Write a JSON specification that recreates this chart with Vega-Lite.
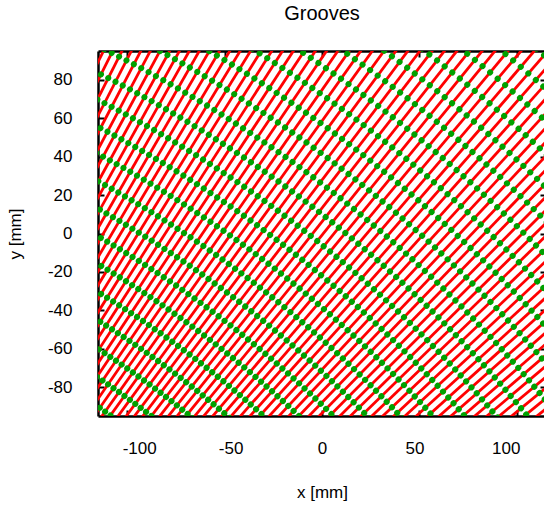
{
  "$schema": "https://vega.github.io/schema/vega-lite/v6.json",
  "width": 448,
  "height": 365,
  "autosize": "none",
  "padding": {"left": 98, "top": 51, "right": 0, "bottom": 95},
  "title": {"text": "Grooves", "fontSize": 20, "fontWeight": "normal", "font": "Liberation Sans", "color": "#000", "anchor": "middle", "frame": "group", "offset": 26},
  "data": {"values": [
    {"g":-38,"x":-410,"y":-520},{"g":-38,"x":403.65,"y":111.71},
    {"g":-37,"x":-410,"y":-520},{"g":-37,"x":398.55,"y":115.74},
    {"g":-36,"x":-410,"y":-520},{"g":-36,"x":393.44,"y":119.77},
    {"g":-35,"x":-410,"y":-520},{"g":-35,"x":388.34,"y":123.80},
    {"g":-34,"x":-410,"y":-520},{"g":-34,"x":383.24,"y":127.82},
    {"g":-33,"x":-410,"y":-520},{"g":-33,"x":378.14,"y":131.85},
    {"g":-32,"x":-410,"y":-520},{"g":-32,"x":373.04,"y":135.88},
    {"g":-31,"x":-410,"y":-520},{"g":-31,"x":367.94,"y":139.91},
    {"g":-30,"x":-410,"y":-520},{"g":-30,"x":362.84,"y":143.94},
    {"g":-29,"x":-410,"y":-520},{"g":-29,"x":357.73,"y":147.97},
    {"g":-28,"x":-410,"y":-520},{"g":-28,"x":352.63,"y":152.00},
    {"g":-27,"x":-410,"y":-520},{"g":-27,"x":347.53,"y":156.03},
    {"g":-26,"x":-410,"y":-520},{"g":-26,"x":342.43,"y":160.05},
    {"g":-25,"x":-410,"y":-520},{"g":-25,"x":337.33,"y":164.08},
    {"g":-24,"x":-410,"y":-520},{"g":-24,"x":332.23,"y":168.11},
    {"g":-23,"x":-410,"y":-520},{"g":-23,"x":327.13,"y":172.14},
    {"g":-22,"x":-410,"y":-520},{"g":-22,"x":322.03,"y":176.17},
    {"g":-21,"x":-410,"y":-520},{"g":-21,"x":316.93,"y":180.20},
    {"g":-20,"x":-410,"y":-520},{"g":-20,"x":311.82,"y":184.23},
    {"g":-19,"x":-410,"y":-520},{"g":-19,"x":306.72,"y":188.25},
    {"g":-18,"x":-410,"y":-520},{"g":-18,"x":301.62,"y":192.28},
    {"g":-17,"x":-410,"y":-520},{"g":-17,"x":296.52,"y":196.31},
    {"g":-16,"x":-410,"y":-520},{"g":-16,"x":291.42,"y":200.34},
    {"g":-15,"x":-410,"y":-520},{"g":-15,"x":286.32,"y":204.37},
    {"g":-14,"x":-410,"y":-520},{"g":-14,"x":281.22,"y":208.40},
    {"g":-13,"x":-410,"y":-520},{"g":-13,"x":276.12,"y":212.43},
    {"g":-12,"x":-410,"y":-520},{"g":-12,"x":271.01,"y":216.46},
    {"g":-11,"x":-410,"y":-520},{"g":-11,"x":265.91,"y":220.48},
    {"g":-10,"x":-410,"y":-520},{"g":-10,"x":260.81,"y":224.51},
    {"g":-9,"x":-410,"y":-520},{"g":-9,"x":255.71,"y":228.54},
    {"g":-8,"x":-410,"y":-520},{"g":-8,"x":250.61,"y":232.57},
    {"g":-7,"x":-410,"y":-520},{"g":-7,"x":245.51,"y":236.60},
    {"g":-6,"x":-410,"y":-520},{"g":-6,"x":240.41,"y":240.63},
    {"g":-5,"x":-410,"y":-520},{"g":-5,"x":235.31,"y":244.66},
    {"g":-4,"x":-410,"y":-520},{"g":-4,"x":230.20,"y":248.69},
    {"g":-3,"x":-410,"y":-520},{"g":-3,"x":225.10,"y":252.71},
    {"g":-2,"x":-410,"y":-520},{"g":-2,"x":220.00,"y":256.74},
    {"g":-1,"x":-410,"y":-520},{"g":-1,"x":214.90,"y":260.77},
    {"g":0,"x":-410,"y":-520},{"g":0,"x":209.80,"y":264.80},
    {"g":1,"x":-410,"y":-520},{"g":1,"x":204.70,"y":268.83},
    {"g":2,"x":-410,"y":-520},{"g":2,"x":199.60,"y":272.86},
    {"g":3,"x":-410,"y":-520},{"g":3,"x":194.50,"y":276.89},
    {"g":4,"x":-410,"y":-520},{"g":4,"x":189.40,"y":280.91},
    {"g":5,"x":-410,"y":-520},{"g":5,"x":184.29,"y":284.94},
    {"g":6,"x":-410,"y":-520},{"g":6,"x":179.19,"y":288.97},
    {"g":7,"x":-410,"y":-520},{"g":7,"x":174.09,"y":293.00},
    {"g":8,"x":-410,"y":-520},{"g":8,"x":168.99,"y":297.03},
    {"g":9,"x":-410,"y":-520},{"g":9,"x":163.89,"y":301.06},
    {"g":10,"x":-410,"y":-520},{"g":10,"x":158.79,"y":305.09},
    {"g":11,"x":-410,"y":-520},{"g":11,"x":153.69,"y":309.12},
    {"g":12,"x":-410,"y":-520},{"g":12,"x":148.59,"y":313.14},
    {"g":13,"x":-410,"y":-520},{"g":13,"x":143.48,"y":317.17},
    {"g":14,"x":-410,"y":-520},{"g":14,"x":138.38,"y":321.20},
    {"g":15,"x":-410,"y":-520},{"g":15,"x":133.28,"y":325.23},
    {"g":16,"x":-410,"y":-520},{"g":16,"x":128.18,"y":329.26},
    {"g":17,"x":-410,"y":-520},{"g":17,"x":123.08,"y":333.29},
    {"g":18,"x":-410,"y":-520},{"g":18,"x":117.98,"y":337.32},
    {"g":19,"x":-410,"y":-520},{"g":19,"x":112.88,"y":341.35},
    {"g":20,"x":-410,"y":-520},{"g":20,"x":107.78,"y":345.37},
    {"g":21,"x":-410,"y":-520},{"g":21,"x":102.67,"y":349.40},
    {"g":22,"x":-410,"y":-520},{"g":22,"x":97.57,"y":353.43},
    {"g":23,"x":-410,"y":-520},{"g":23,"x":92.47,"y":357.46},
    {"g":24,"x":-410,"y":-520},{"g":24,"x":87.37,"y":361.49},
    {"g":25,"x":-410,"y":-520},{"g":25,"x":82.27,"y":365.52},
    {"g":26,"x":-410,"y":-520},{"g":26,"x":77.17,"y":369.55},
    {"g":27,"x":-410,"y":-520},{"g":27,"x":72.07,"y":373.57},
    {"g":28,"x":-410,"y":-520},{"g":28,"x":66.97,"y":377.60},
    {"g":29,"x":-410,"y":-520},{"g":29,"x":61.86,"y":381.63},
    {"g":30,"x":-410,"y":-520},{"g":30,"x":56.76,"y":385.66},
    {"g":31,"x":-410,"y":-520},{"g":31,"x":51.66,"y":389.69},
    {"g":32,"x":-410,"y":-520},{"g":32,"x":46.56,"y":393.72},
    {"g":33,"x":-410,"y":-520},{"g":33,"x":41.46,"y":397.75},
    {"g":34,"x":-410,"y":-520},{"g":34,"x":36.36,"y":401.78},
    {"g":35,"x":-410,"y":-520},{"g":35,"x":31.26,"y":405.80},
    {"g":36,"x":-410,"y":-520},{"g":36,"x":26.16,"y":409.83},
    {"g":37,"x":-410,"y":-520},{"g":37,"x":21.06,"y":413.86},
    {"g":38,"x":-410,"y":-520},{"g":38,"x":15.95,"y":417.89}
  ]},
  "encoding": {
    "x": {"field": "x", "type": "quantitative", "scale": {"domain": [-115, 115], "nice": false, "zero": false}},
    "y": {"field": "y", "type": "quantitative", "scale": {"domain": [-95, 95], "nice": false, "zero": false}},
    "detail": {"field": "g", "type": "nominal"}
  },
  "layer": [
    {
      "mark": {"type": "line", "stroke": "#ff0000", "strokeWidth": 2.8, "clip": true},
      "encoding": {
        "x": {"field": "x", "type": "quantitative", "axis": {"orient": "bottom", "title": "x [mm]", "values": [-100, -50, 0, 50, 100], "labelExpr": "'' + datum.value", "labelPadding": 30, "titlePadding": 28,
          "labelOffset": {"condition": [{"test": "datum.value < -75", "value": 12}, {"test": "datum.value < -25", "value": 6}, {"test": "datum.value > 75", "value": -11}, {"test": "datum.value > 25", "value": -5}], "value": 0}}},
        "y": {"field": "y", "type": "quantitative", "axis": {"orient": "left", "title": "y [mm]", "values": [-80, -60, -40, -20, 0, 20, 40, 60, 80], "labelExpr": "'' + datum.value", "labelPadding": 32, "titlePadding": 23}}
      }
    },
    {
      "mark": {"type": "line", "stroke": "#00a000", "strokeWidth": 6, "strokeCap": "round", "strokeDash": [0.1, 23.9], "strokeDashOffset": 2, "clip": true},
      "encoding": {
        "x": {"field": "x", "type": "quantitative", "axis": {"orient": "top", "title": null, "labels": false, "values": [-100, -50, 0, 50, 100]}},
        "y": {"field": "y", "type": "quantitative", "axis": {"orient": "right", "title": null, "labels": false, "values": [-80, -60, -40, -20, 0, 20, 40, 60, 80]}}
      }
    }
  ],
  "resolve": {"axis": {"x": "independent", "y": "independent"}},
  "config": {
    "font": "Liberation Sans",
    "view": {"stroke": null},
    "axis": {
      "grid": false, "domain": true, "domainColor": "#000", "domainWidth": 2.5, "zindex": 1,
      "tickColor": "#000", "tickWidth": 2, "tickSize": -6,
      "labelFont": "Liberation Sans", "labelFontSize": 17, "labelColor": "#000",
      "titleFont": "Liberation Sans", "titleFontSize": 17, "titleFontWeight": "normal", "titleColor": "#000"
    }
  }
}
